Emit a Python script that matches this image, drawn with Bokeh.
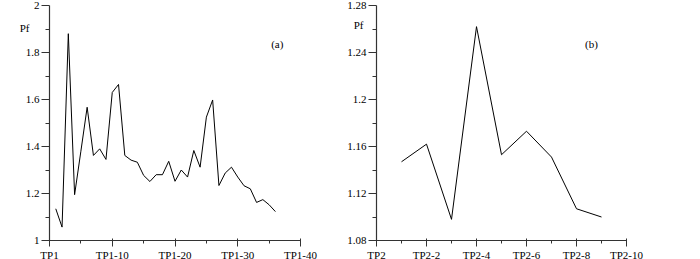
from bokeh.plotting import figure
from bokeh.layouts import row
from bokeh.models import FixedTicker, Range1d, Label, LinearAxis
from bokeh.embed import file_html
from bokeh.resources import INLINE

# ---- data (a) ----
a_x = list(range(1, 37))
a_y = [1.135, 1.057, 1.88, 1.195, 1.38, 1.567, 1.362, 1.39, 1.345, 1.63,
       1.664, 1.362, 1.342, 1.333, 1.277, 1.251, 1.28, 1.28, 1.337, 1.252,
       1.30, 1.27, 1.383, 1.312, 1.525, 1.598, 1.234, 1.287, 1.312, 1.27,
       1.233, 1.22, 1.162, 1.174, 1.152, 1.123]
a_xticks = [0, 10, 20, 30, 40]
a_xlabels = ["TP1", "TP1-10", "TP1-20", "TP1-30", "TP1-40"]
a_yticks = [1.0, 1.2, 1.4, 1.6, 1.8, 2.0]
a_ylabels = ["1", "1.2", "1.4", "1.6", "1.8", "2"]

# ---- data (b) ----
b_x = list(range(1, 10))
b_y = [1.147, 1.162, 1.098, 1.262, 1.153, 1.173, 1.151, 1.107, 1.100]
b_xticks = [0, 2, 4, 6, 8, 10]
b_xlabels = ["TP2", "TP2-2", "TP2-4", "TP2-6", "TP2-8", "TP2-10"]
b_yticks = [1.08, 1.12, 1.16, 1.20, 1.24, 1.28]
b_ylabels = ["1.08", "1.12", "1.16", "1.2", "1.24", "1.28"]

FONT = "Liberation Serif"


def make(xs, ys, xr, yr, xt, xl, xminor, yt, yl, yminor, bl, br, fw, title, tpos, py, pshift):
    p = figure(width=bl + fw + br, height=259, frame_width=fw, frame_height=235,
               x_range=Range1d(*xr), y_range=Range1d(*yr),
               output_backend="svg", toolbar_location=None,
               min_border_left=bl, min_border_right=br,
               min_border_top=5, min_border_bottom=19)
    p.outline_line_color = None
    p.grid.visible = False
    p.line(xs, ys, line_color="black", line_width=1)

    p.xaxis.ticker = FixedTicker(ticks=xt, minor_ticks=xminor)
    p.xaxis.major_label_overrides = {t: s for t, s in zip(xt, xl)}
    p.yaxis.ticker = FixedTicker(ticks=yt, minor_ticks=yminor)
    p.yaxis.major_label_overrides = {t: s for t, s in zip(yt, yl)}

    for ax in (p.xaxis[0], p.yaxis[0]):
        ax.axis_line_color = "#333333"
        ax.axis_line_width = 1.2
        ax.major_tick_line_color = "#333333"
        ax.minor_tick_line_color = "#333333"
        ax.major_label_text_font = FONT
        ax.major_label_text_font_size = "11px"
        ax.major_label_text_color = "black"
    p.xaxis.major_tick_in = 2
    p.xaxis.major_tick_out = 6
    p.xaxis.minor_tick_in = 0
    p.xaxis.minor_tick_out = 3
    p.xaxis.major_label_standoff = 2
    p.yaxis.major_tick_in = 0
    p.yaxis.major_tick_out = 8
    p.yaxis.minor_tick_in = 0
    p.yaxis.minor_tick_out = 4
    p.yaxis.major_label_standoff = 2

    # "Pf" quantity label, drawn as a tick label of an extra, line-less left axis
    pax = LinearAxis(ticker=FixedTicker(ticks=[py], minor_ticks=[]),
                     major_label_overrides={py: "Pf"},
                     axis_line_color=None, major_tick_line_color=None,
                     minor_tick_line_color=None, major_tick_in=0, major_tick_out=0,
                     minor_tick_in=0, minor_tick_out=0,
                     major_label_standoff=-pshift,
                     major_label_text_font=FONT, major_label_text_font_size="11px",
                     major_label_text_color="black")
    p.add_layout(pax, "left")

    p.add_layout(Label(x=tpos[0], y=tpos[1], text=title, text_font=FONT,
                       text_font_size="11px", text_align="center",
                       text_baseline="middle", text_color="black"))
    return p


p1 = make(a_x, a_y, (0, 40), (1, 2), a_xticks, a_xlabels, [5, 15, 25, 35],
          a_yticks, a_ylabels, [1.1, 1.3, 1.5, 1.7, 1.9],
          49, 38, 251, "(a)", (36.3, 1.838), 1.906, 7)
p2 = make(b_x, b_y, (0, 10), (1.08, 1.28), b_xticks, b_xlabels, [1, 3, 5, 7, 9],
          b_yticks, b_ylabels, [1.10, 1.14, 1.18, 1.22, 1.26],
          38, 74, 250, "(b)", (8.6, 1.247), 1.263, 19)

layout = row(p1, p2)
open("out.html", "w").write(file_html(layout, INLINE))
